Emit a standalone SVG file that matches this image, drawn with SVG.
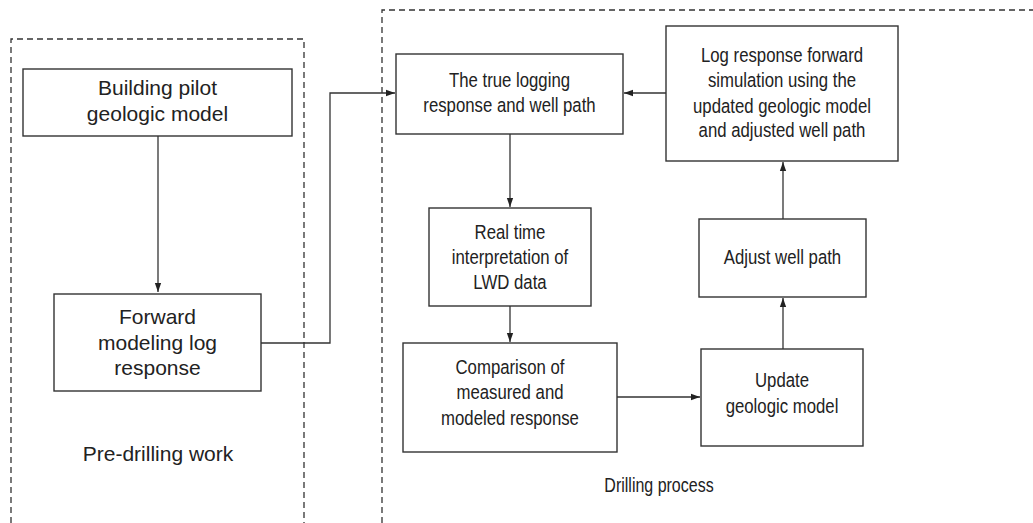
<svg xmlns="http://www.w3.org/2000/svg" width="1033" height="523" viewBox="0 0 1033 523">
<style>
.box{fill:#fff;stroke:#333;stroke-width:1.4}
.dash{fill:none;stroke:#333;stroke-width:1.3;stroke-dasharray:6,4}
.ln{fill:none;stroke:#333;stroke-width:1.3}
.tl{font-family:"Liberation Sans",Arial,sans-serif;font-size:21px;fill:#222;text-anchor:middle}
.tr{font-family:"Liberation Sans",Arial,sans-serif;font-size:19.5px;fill:#222;text-anchor:middle}
</style>
<defs>
<marker id="ah" viewBox="0 0 10 10" refX="10" refY="5" markerWidth="9" markerHeight="9" markerUnits="userSpaceOnUse" orient="auto">
<path d="M0,1.5 L10,5 L0,8.5 Z" fill="#222"/>
</marker>
</defs>
<g id="regions">
<path class="dash" d="M11,523 V39 H304 V523"/>
<path class="dash" d="M382,523 V10 H1033"/>
<text class="tl" x="158" y="461">Pre-drilling work</text>
<text class="tr" transform="translate(659,492) scale(0.82,1)" x="0" y="0">Drilling process</text>
</g>
<g id="connectors">
<path class="ln" d="M158,136 V292" marker-end="url(#ah)"/>
<path class="ln" d="M261,343 H330 V93 H395" marker-end="url(#ah)"/>
<path class="ln" d="M666,93 H624" marker-end="url(#ah)"/>
<path class="ln" d="M510,134 V207" marker-end="url(#ah)"/>
<path class="ln" d="M510,306 V342" marker-end="url(#ah)"/>
<path class="ln" d="M617,397 H700" marker-end="url(#ah)"/>
<path class="ln" d="M783,349 V298" marker-end="url(#ah)"/>
<path class="ln" d="M783,219 V162" marker-end="url(#ah)"/>
</g>
<g id="building">
<rect class="box" x="23" y="69" width="269" height="67"/>
<text class="tl" x="157.5" y="95">Building pilot</text>
<text class="tl" x="157.5" y="121">geologic model</text>
</g>
<g id="forward">
<rect class="box" x="54" y="294" width="207" height="97"/>
<text class="tl" x="157.5" y="324">Forward</text>
<text class="tl" x="157.5" y="349.5">modeling log</text>
<text class="tl" x="157.5" y="375">response</text>
</g>
<g id="true">
<rect class="box" x="396" y="54" width="227" height="80"/>
<text class="tr" transform="translate(509.5,87) scale(0.86,1)" x="0" y="0">The true logging</text>
<text class="tr" transform="translate(509.5,112) scale(0.86,1)" x="0" y="0">response and well path</text>
</g>
<g id="logsim">
<rect class="box" x="666" y="26" width="232" height="135"/>
<text class="tr" transform="translate(782,62) scale(0.86,1)" x="0" y="0">Log response forward</text>
<text class="tr" transform="translate(782,87) scale(0.86,1)" x="0" y="0">simulation using the</text>
<text class="tr" transform="translate(782,113) scale(0.86,1)" x="0" y="0">updated geologic model</text>
<text class="tr" transform="translate(782,137) scale(0.86,1)" x="0" y="0">and adjusted well path</text>
</g>
<g id="realtime">
<rect class="box" x="429" y="208" width="162" height="98"/>
<text class="tr" transform="translate(510,239) scale(0.86,1)" x="0" y="0">Real time</text>
<text class="tr" transform="translate(510,264) scale(0.86,1)" x="0" y="0">interpretation of</text>
<text class="tr" transform="translate(510,289) scale(0.86,1)" x="0" y="0">LWD data</text>
</g>
<g id="comparison">
<rect class="box" x="403" y="343" width="214" height="109"/>
<text class="tr" transform="translate(510,374) scale(0.86,1)" x="0" y="0">Comparison of</text>
<text class="tr" transform="translate(510,399) scale(0.86,1)" x="0" y="0">measured and</text>
<text class="tr" transform="translate(510,425) scale(0.86,1)" x="0" y="0">modeled response</text>
</g>
<g id="update">
<rect class="box" x="701" y="349" width="162" height="97"/>
<text class="tr" transform="translate(782,387) scale(0.86,1)" x="0" y="0">Update</text>
<text class="tr" transform="translate(782,413) scale(0.86,1)" x="0" y="0">geologic model</text>
</g>
<g id="adjust">
<rect class="box" x="699" y="219" width="167" height="78"/>
<text class="tr" transform="translate(782.5,264) scale(0.86,1)" x="0" y="0">Adjust well path</text>
</g>
</svg>
